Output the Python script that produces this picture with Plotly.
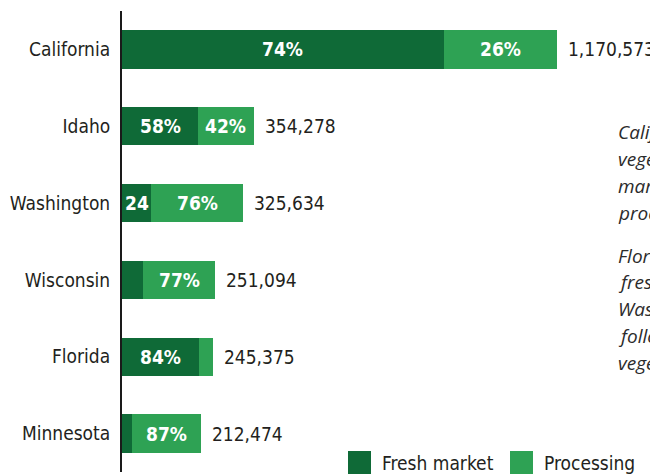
import plotly.graph_objects as go

states = ["California", "Idaho", "Washington", "Wisconsin", "Florida", "Minnesota"]
totals = [1170573, 354278, 325634, 251094, 245375, 212474]
fresh_pct = [74, 58, 24, 23, 84, 13]
proc_pct = [26, 42, 76, 77, 16, 87]
fresh_labels = ["74%", "58%", "24", "", "84%", ""]
proc_labels = ["26%", "42%", "76%", "77%", "", "87%"]
total_labels = ["1,170,573", "354,278", "325,634", "251,094", "245,375", "212,474"]
note_lines = [
    "California leads all states in",
    "vegetable output for fresh",
    "market and for",
    "processing.",
    "",
    "Florida ranks second in",
    "fresh market, while",
    "Washington and Wisconsin",
    "follow in processing",
    "vegetables.",
]

DARK = "#0f6a37"
LIGHT = "#2ea254"
FONT = "DejaVu Sans Condensed, Liberation Sans Narrow, sans-serif"

fresh_vals = [t * p / 100 for t, p in zip(totals, fresh_pct)]
proc_vals = [t * p / 100 for t, p in zip(totals, proc_pct)]

fig = go.Figure()
fig.add_trace(go.Bar(
    y=states, x=fresh_vals, orientation="h", name="Fresh market",
    marker=dict(color=DARK, line=dict(width=0)),
    hoverinfo="skip", showlegend=False,
))
fig.add_trace(go.Bar(
    y=states, x=proc_vals, orientation="h", name="Processing",
    marker=dict(color=LIGHT, line=dict(width=0)),
    hoverinfo="skip", showlegend=False,
))

annotations = []
pct_font = dict(family=FONT, size=19, color="white", weight="bold")
for s, fv, pv, fl, pl in zip(states, fresh_vals, proc_vals, fresh_labels, proc_labels):
    if fl:
        annotations.append(dict(x=fv / 2, y=s, xref="x", yref="y", text=fl,
                                showarrow=False, xanchor="center", yanchor="middle",
                                font=pct_font))
    if pl:
        annotations.append(dict(x=fv + pv / 2, y=s, xref="x", yref="y", text=pl,
                                showarrow=False, xanchor="center", yanchor="middle",
                                font=pct_font))

for s, t, lab in zip(states, totals, total_labels):
    annotations.append(dict(
        x=t, y=s, xref="x", yref="y", text=lab, showarrow=False,
        xanchor="left", yanchor="middle", xshift=9,
        font=dict(family=FONT, size=19, color="#231f20"),
    ))

# side note (cropped by the canvas edge, as in the reference)
TOP, BOT = 11, 3
W, H = 528, 475 - TOP - BOT
def px(xp):
    return (xp - 122) / W
def py(yp):
    return (475 - BOT - yp) / H

line_y = [132, 159, 186, 213, 0, 256, 282, 309, 336, 363]
for txt, yy in zip(note_lines, line_y):
    if not txt:
        continue
    annotations.append(dict(
        x=px(616), y=py(yy), xref="paper", yref="paper", text="<i>" + txt + "</i>",
        showarrow=False, xanchor="left", yanchor="middle",
        font=dict(family="Open Sans, sans-serif", size=19, color="#2b2b2b"),
    ))

# legend
legend_items = [("Fresh market", DARK, 348), ("Processing", LIGHT, 510)]
shapes = []
for name, col, x0 in legend_items:
    shapes.append(dict(type="rect", xref="paper", yref="paper",
                       x0=px(x0), x1=px(x0 + 23), y0=py(474), y1=py(451),
                       fillcolor=col, line=dict(width=0)))
    annotations.append(dict(
        x=px(x0 + 32), y=py(463), xref="paper", yref="paper", text=name,
        showarrow=False, xanchor="left", yanchor="middle",
        font=dict(family=FONT, size=19, color="#231f20"),
    ))

fig.update_layout(
    barmode="stack",
    bargap=0.5,
    width=650, height=475,
    margin=dict(l=122, r=0, t=TOP, b=BOT, autoexpand=False),
    plot_bgcolor="white", paper_bgcolor="white",
    showlegend=False,
    annotations=annotations,
    shapes=shapes,
    xaxis=dict(range=[0, 1421000], visible=False, showgrid=False, zeroline=False),
    yaxis=dict(
        autorange="reversed", showgrid=False, zeroline=False, automargin=False,
        showline=True, linecolor="#1a1a1a", linewidth=2,
        ticks="", ticklabelstandoff=6,
        tickfont=dict(family=FONT, size=19, color="#231f20"),
    ),
)

fig.write_html(
    "out.html",
    config={"displayModeBar": False},
    post_script="document.body.style.margin='0';document.body.style.overflow='hidden';",
)
